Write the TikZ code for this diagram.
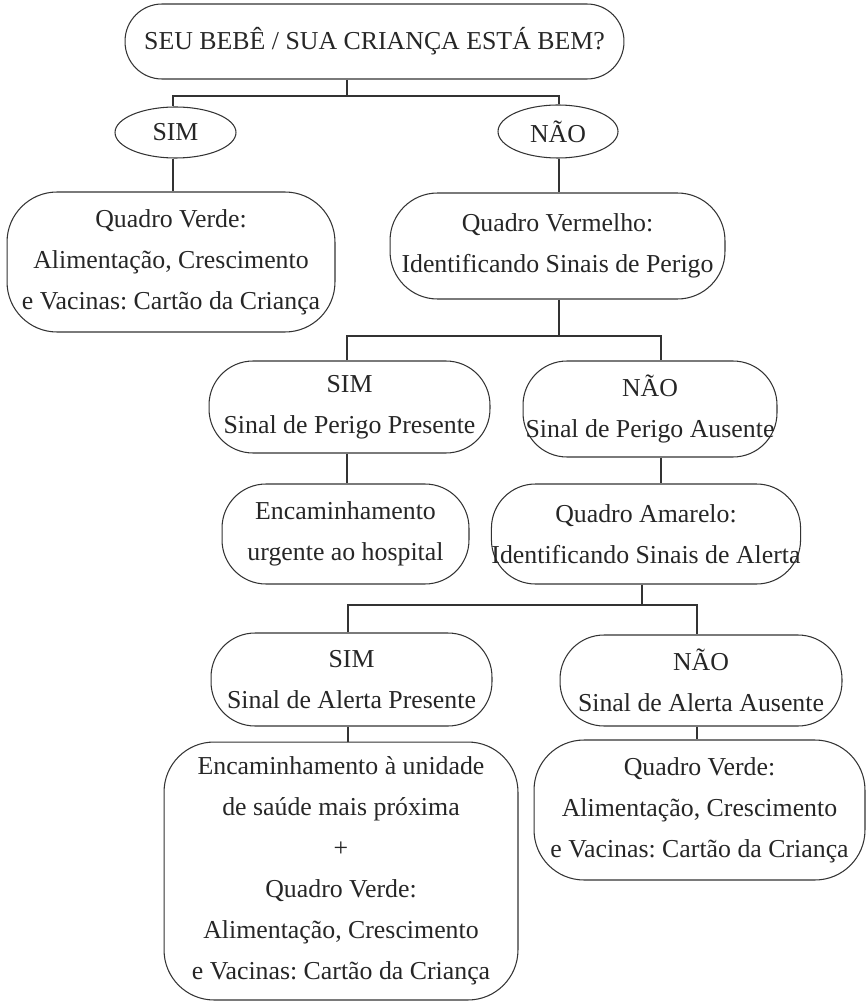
\documentclass[tikz,border=0pt]{standalone}
\usepackage{fontspec}
\setmainfont{Liberation Serif}
\frenchspacing
\usetikzlibrary{shapes.geometric}

\tikzset{
  box/.style={draw=black!80, line width=0.6pt, rounded corners=0.88cm, align=center, inner sep=0pt},
  bigbox/.style={box, rounded corners=1.0cm},
  oval/.style={draw=black!80, line width=0.6pt, ellipse, inner sep=0pt},
  link/.style={draw=black!80, line width=0.6pt},
  every node/.style={font=\fontsize{14.7}{23.3}\selectfont, text=black!85},
}

\begin{document}
\begin{tikzpicture}[x=0.02cm, y=-0.02cm]
	%%%%% START %%%%%
	\useasboundingbox (0,0) rectangle (866,1003);
	
	\node[box, rounded corners=0.74cm, minimum width=9.98cm, minimum height=1.5cm] (top) at (374.5,41.5) {SEU BEBÊ / SUA CRIANÇA ESTÁ BEM?};
	
	\node[oval, minimum width=2.42cm, minimum height=1.02cm] (sim1) at (175.5,132.5) {SIM};
	\node[oval, minimum width=2.4cm, minimum height=1.06cm] (nao1) at (558,131.5) {NÃO};
	
	\node[bigbox, minimum width=6.56cm, minimum height=2.8cm] (verde1) at (171,262) {Quadro Verde:\\Alimentação, Crescimento\\e Vacinas: Cartão da Criança};
	\node[box, rounded corners=0.95cm, minimum width=6.7cm, minimum height=2.12cm] (vermelho) at (557.5,246) {Quadro Vermelho:\\Identificando Sinais de Perigo};
	
	\node[box, minimum width=5.62cm, minimum height=1.84cm] (simperigo) at (349.5,407) {SIM\\Sinal de Perigo Presente};
	\node[box, minimum width=5.08cm, minimum height=1.92cm] (naoperigo) at (650,409) {NÃO\\Sinal de Perigo Ausente};
	
	\node[box, minimum width=4.94cm, minimum height=2cm] (urgente) at (345.5,534) {Encaminhamento\\urgente ao hospital};
	\node[box, minimum width=6.16cm, minimum height=2cm] (amarelo) at (646,534) {Quadro Amarelo:\\Identificando Sinais de Alerta};
	
	\node[box, minimum width=5.62cm, minimum height=1.86cm] (simalerta) at (351.5,679.5) {SIM\\Sinal de Alerta Presente};
	\node[box, minimum width=5.64cm, minimum height=1.82cm] (naoalerta) at (701,680.5) {NÃO\\Sinal de Alerta Ausente};
	
	\node[bigbox, minimum width=7.08cm, minimum height=5.16cm] (saude) at (341,871) {Encaminhamento à unidade\\de saúde mais próxima\\+\\Quadro Verde:\\Alimentação, Crescimento\\e Vacinas: Cartão da Criança};
	\node[bigbox, minimum width=6.62cm, minimum height=2.8cm] (verde2) at (699.5,810) {Quadro Verde:\\Alimentação, Crescimento\\e Vacinas: Cartão da Criança};
	
	% first split
	\coordinate (j1) at (347,96);
	\coordinate (j1a) at (173,96);
	\coordinate (j1b) at (559,96);
	\draw[link] (top.south -| j1) -- (j1);
	\draw[link] (sim1.north -| j1a) -- (j1a) -- (j1b) -- (nao1.north -| j1b);
	\draw[link] (sim1.south -| j1a) -- (verde1.north -| j1a);
	\draw[link] (nao1.south -| j1b) -- (vermelho.north -| j1b);
	
	% second split
	\coordinate (j2) at (559,336);
	\coordinate (j2a) at (347,336);
	\coordinate (j2b) at (661,336);
	\draw[link] (vermelho.south -| j2) -- (j2);
	\draw[link] (simperigo.north -| j2a) -- (j2a) -- (j2b) -- (naoperigo.north -| j2b);
	\draw[link] (simperigo.south -| j2a) -- (urgente.north -| j2a);
	\draw[link] (naoperigo.south -| j2b) -- (amarelo.north -| j2b);
	
	% third split
	\coordinate (j3) at (642,605);
	\coordinate (j3a) at (348,605);
	\coordinate (j3b) at (697,605);
	\draw[link] (amarelo.south -| j3) -- (j3);
	\draw[link] (simalerta.north -| j3a) -- (j3a) -- (j3b) -- (naoalerta.north -| j3b);
	\draw[link] (simalerta.south -| j3a) -- (saude.north -| j3a);
	\draw[link] (naoalerta.south -| j3b) -- (verde2.north -| j3b);
	
	%%%%% END %%%%%
\end{tikzpicture}
\end{document}
